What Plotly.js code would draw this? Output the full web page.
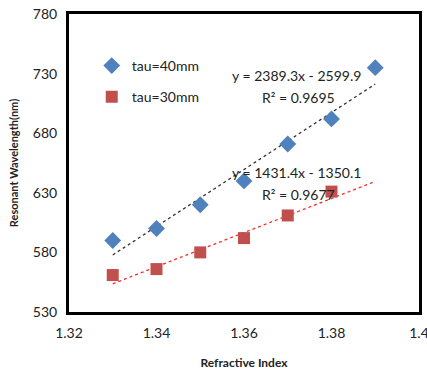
<!DOCTYPE html>
<html><head><meta charset="utf-8">
<script src="https://cdn.plot.ly/plotly-3.0.1.min.js"></script>
<style>body{margin:0;background:#fff}#c{width:427px;height:370px}</style>
</head><body><div id="c"></div>
<script>
const x40 = [1.33, 1.34, 1.35, 1.36, 1.37, 1.38, 1.39];
const y40 = [590, 600, 620, 640, 671, 692, 735];
const x30 = [1.33, 1.34, 1.35, 1.36, 1.37, 1.38];
const y30 = [561, 566, 580, 592, 611, 631];
const fit40 = {slope: 2389.3, intercept: -2599.9, r2: '0.9695'};
const fit30 = {slope: 1431.4, intercept: -1350.1, r2: '0.9677'};
const fitX = [1.33, 1.39];
const xTicks = [1.32, 1.34, 1.36, 1.38, 1.4];
const yTicks = [530, 580, 630, 680, 730, 780];

const line = (f) => fitX.map(v => f.slope * v + f.intercept);
const F = 'Lato, "Open Sans", sans-serif';

const data = [
  {x: fitX, y: line(fit40), mode: 'lines', line: {color: '#333', width: 1.3, dash: 'dot'}, showlegend: false, hoverinfo: 'skip'},
  {x: fitX, y: line(fit30), mode: 'lines', line: {color: '#ff2a2a', width: 1.3, dash: 'dot'}, showlegend: false, hoverinfo: 'skip'},
  {x: x40, y: y40, mode: 'markers', name: 'tau=40mm', legendgroup: 'a', marker: {symbol: 'diamond', size: 13, color: '#4F81BD'}},
  {x: x30, y: y30, mode: 'markers', name: 'tau=30mm', legendgroup: 'b', marker: {symbol: 'square', size: 12, color: '#C0504D'}}
];

const layout = {
  width: 427, height: 370,
  margin: {l: 69, r: 8, t: 14, b: 58},
  paper_bgcolor: '#fff', plot_bgcolor: '#fff',
  font: {family: F, size: 14, color: '#222'},
  showlegend: true,
  legend: {x: 0.065, y: 1 - (62 - 14 - 12) / 298, xanchor: 'left', yanchor: 'top', bgcolor: 'rgba(0,0,0,0)',
    font: {family: F, size: 14, color: '#222'}, tracegroupgap: 10, itemwidth: 30, traceorder: 'grouped'},
  xaxis: {range: [1.32, 1.4], tickvals: xTicks, ticktext: xTicks.map(v => v === 1.4 ? '1.4' : v.toFixed(2)),
    showgrid: false, zeroline: false, showline: true, mirror: true, linecolor: '#000', linewidth: 3,
    ticks: '', ticklabelstandoff: 6, ticklabeloverflow: 'allow', tickfont: {family: F, size: 14},
    title: {text: '<b>Refractive Index</b>', font: {family: F, size: 12}, standoff: 20}},
  yaxis: {range: [530, 780], tickvals: yTicks, showgrid: false, zeroline: false, showline: true, mirror: true,
    linecolor: '#000', linewidth: 3, ticks: '', ticklabelstandoff: 6, tickfont: {family: F, size: 14},
    title: {text: '<b>Resonant Wavelength(nm)</b>', font: {family: F, size: 11}, standoff: 12}},
  annotations: [
    {x: 296, y: 75, text: 'y = 2389.3x - 2599.9'},
    {x: 298, y: 97, text: 'R² = ' + fit40.r2},
    {x: 296, y: 172, text: 'y = 1431.4x - 1350.1'},
    {x: 298, y: 194, text: 'R² = ' + fit30.r2}
  ].map(a => Object.assign(a, {showarrow: false, xref: 'paper', yref: 'paper', x: (a.x - 69) / 350, y: 1 - (a.y - 14) / 298, xanchor: 'center', yanchor: 'middle', font: {family: F, size: 14, color: '#222'}}))
};
Plotly.newPlot('c', data, layout, {displayModeBar: false, staticPlot: true});
</script></body></html>
